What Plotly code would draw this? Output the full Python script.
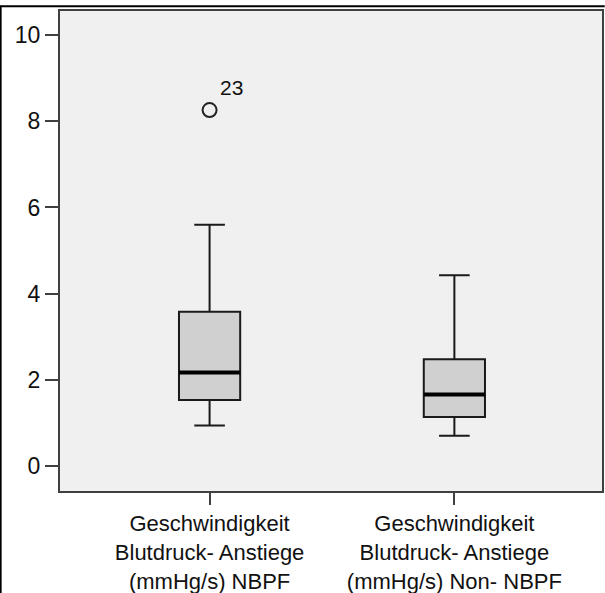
import plotly.graph_objects as go

categories = ["Geschwindigkeit<br>Blutdruck- Anstiege<br>(mmHg/s) NBPF",
              "Geschwindigkeit<br>Blutdruck- Anstiege<br>(mmHg/s) Non- NBPF"]
lower_whisker = [0.94, 0.70]
q1 = [1.53, 1.14]
median = [2.17, 1.66]
q3 = [3.58, 2.48]
upper_whisker = [5.60, 4.43]
outlier_x = [0]
outlier_y = [8.26]
outlier_labels = ["23"]
y_ticks = [0, 2, 4, 6, 8, 10]

box_w = 0.25
fig = go.Figure()
for i in range(len(categories)):
    fig.add_trace(go.Box(
        x=[i], q1=[q1[i]], median=[median[i]], q3=[q3[i]],
        lowerfence=[lower_whisker[i]], upperfence=[upper_whisker[i]],
        width=box_w, whiskerwidth=0.5,
        fillcolor="#D0D0D0", line=dict(color="#1a1a1a", width=2),
        boxpoints=False, showlegend=False, hoverinfo="skip"))
    fig.add_trace(go.Scatter(
        x=[i - box_w / 2, i + box_w / 2], y=[median[i], median[i]],
        mode="lines", line=dict(color="black", width=4),
        showlegend=False, hoverinfo="skip"))

fig.add_trace(go.Scatter(
    x=outlier_x, y=outlier_y, mode="markers",
    marker=dict(symbol="circle-open", size=14, color="#222", line=dict(width=2)),
    showlegend=False, hoverinfo="skip"))
for xv, yv, t in zip(outlier_x, outlier_y, outlier_labels):
    fig.add_annotation(x=xv, y=yv, text=t, showarrow=False, xanchor="left",
                       yanchor="bottom", xshift=8, yshift=9,
                       font=dict(family="Liberation Sans", size=21, color="#111"))

axis_common = dict(showline=True, mirror=True, linecolor="#404040", linewidth=2,
                   ticks="outside", tickwidth=2, tickcolor="#404040",
                   showgrid=False, zeroline=False, automargin=False)

fig.update_layout(
    width=605, height=593,
    margin=dict(l=60, r=3, t=11, b=102),
    paper_bgcolor="white", plot_bgcolor="#F0F0F0",
    xaxis=dict(range=[-0.611, 1.603], tickvals=[0, 1], ticktext=categories, ticklen=12,
               tickfont=dict(family="Liberation Sans", size=22, color="#111"), **axis_common),
    yaxis=dict(range=[-0.58, 10.56], tickvals=y_ticks, ticklen=13,
               tickfont=dict(family="Liberation Sans", size=23, color="#111"), **axis_common),
    shapes=[
        dict(type="line", xref="paper", yref="paper", x0=-0.111, x1=1.005, y0=1.01, y1=1.01,
             line=dict(color="black", width=2), layer="above"),
        dict(type="line", xref="paper", yref="paper", x0=-0.1095, x1=-0.1095, y0=-0.22, y1=1.011,
             line=dict(color="black", width=2), layer="above"),
    ],
)

fig.write_html("out.html", config={"displayModeBar": False},
               post_script="document.body.style.margin='0';document.body.style.overflow='hidden';")
